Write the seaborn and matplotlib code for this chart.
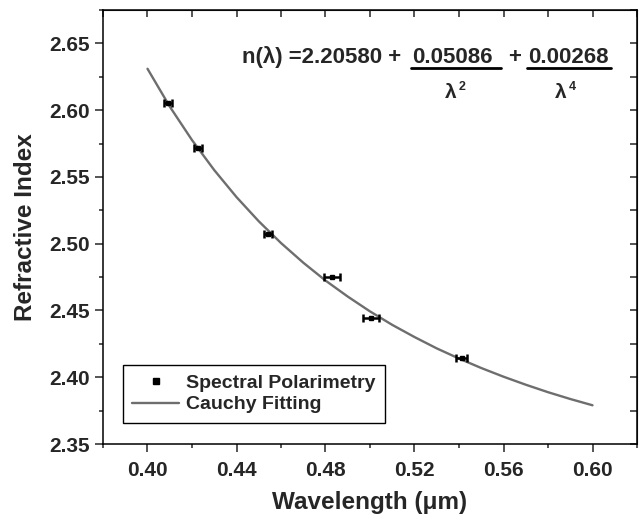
import matplotlib
matplotlib.use("Agg")
import matplotlib.pyplot as plt
import seaborn as sns
import pandas as pd
from matplotlib.ticker import MultipleLocator, FormatStrFormatter
from matplotlib.lines import Line2D

# measured points (spectral polarimetry)
wl = [0.4094, 0.4229, 0.4543, 0.4828, 0.5004, 0.5413]
n_meas = [2.605, 2.5716, 2.507, 2.4747, 2.444, 2.4142]
wl_err = [0.0018, 0.0018, 0.0018, 0.0036, 0.0036, 0.0025]

# Cauchy fit curve
wl_fit = [0.40, 0.41, 0.42, 0.43, 0.44, 0.45, 0.46, 0.47, 0.48, 0.49, 0.50,
          0.51, 0.52, 0.53, 0.54, 0.55, 0.56, 0.57, 0.58, 0.59, 0.60]
n_fit = [2.631, 2.6027, 2.5776, 2.5551, 2.5349, 2.5168, 2.5005, 2.4858, 2.4724,
         2.4604, 2.4493, 2.4392, 2.4301, 2.4216, 2.414, 2.4069, 2.4004, 2.3944,
         2.3888, 2.3837, 2.379]

sns.set_style("ticks")
plt.rcParams['font.family'] = ['Liberation Sans', 'DejaVu Sans']
plt.rcParams['font.weight'] = 'bold'

fig = plt.figure(figsize=(6.42, 5.19), dpi=100)
ax = fig.add_axes([103 / 642, 1 - 444 / 519, 534 / 642, 434 / 519])

fit_df = pd.DataFrame({'wl': wl_fit, 'n': n_fit})
sns.lineplot(data=fit_df, x='wl', y='n', ax=ax, color='#6e6e6e', lw=1.7)
ax.errorbar(wl, n_meas, xerr=wl_err, fmt='s', color='black', ms=3.4,
            elinewidth=1.8, capsize=2.6, capthick=1.8)

ax.set_xlim(0.38, 0.62)
ax.set_ylim(2.35, 2.675)
ax.xaxis.set_major_locator(MultipleLocator(0.04))
ax.xaxis.set_minor_locator(MultipleLocator(0.02))
ax.yaxis.set_major_locator(MultipleLocator(0.05))
ax.yaxis.set_minor_locator(MultipleLocator(0.025))
ax.xaxis.set_major_formatter(FormatStrFormatter('%.2f'))
ax.yaxis.set_major_formatter(FormatStrFormatter('%.2f'))
ax.tick_params(which='major', direction='out', length=6, width=1.1, labelsize=15)
ax.tick_params(axis='x', which='major', pad=6)
ax.tick_params(which='minor', direction='out', length=3, width=1.1)
for s in ax.spines.values():
    s.set_linewidth(1.1)
    s.set_color('black')

# mirrored inward ticks on top and right
top = ax.secondary_xaxis('top')
top.xaxis.set_major_locator(MultipleLocator(0.04))
top.xaxis.set_minor_locator(MultipleLocator(0.02))
top.tick_params(which='both', direction='in', length=5, width=1.1, labeltop=False)
right = ax.secondary_yaxis('right')
right.yaxis.set_major_locator(MultipleLocator(0.05))
right.yaxis.set_minor_locator(MultipleLocator(0.025))
right.tick_params(which='both', direction='in', length=5, width=1.1, labelright=False)

ax.set_xlabel('Wavelength (\u03bcm)', fontsize=17.5, fontweight='bold', labelpad=8)
ax.set_ylabel('Refractive Index', fontsize=17.5, fontweight='bold', labelpad=9)

handles = [Line2D([], [], marker='s', color='black', ls='none', ms=3.8),
           Line2D([], [], color='#6e6e6e', lw=1.7)]
leg = ax.legend(handles, ['Spectral Polarimetry', 'Cauchy Fitting'],
                loc='lower left', bbox_to_anchor=(0.037, 0.048), borderaxespad=0,
                fancybox=False, framealpha=1, edgecolor='black',
                handlelength=2.4, handletextpad=0.35, borderpad=0.5,
                labelspacing=0.2, prop={'weight': 'bold', 'size': 14})
leg.get_frame().set_linewidth(1.0)


def fx(px):
    return px / 642


def fy(py):
    return 1 - py / 519


eq = dict(fontsize=16, fontweight='bold', va='baseline')
fig.text(fx(242), fy(63), 'n(\u03bb) =2.20580 +', ha='left', **eq)
fig.text(fx(412), fy(63), '0.05086', ha='left', **eq)
fig.text(fx(508), fy(63), '+', ha='left', **eq)
fig.text(fx(528), fy(63), '0.00268', ha='left', **eq)
for x0, x1 in [(411, 501), (527, 611)]:
    fig.add_artist(Line2D([fx(x0), fx(x1)], [fy(68), fy(68)], color='black',
                          lw=2, transform=fig.transFigure))
fig.text(fx(451), fy(98), '\u03bb', ha='center', fontsize=15, va='baseline')
fig.text(fx(462), fy(90), '2', ha='center', fontsize=9, fontweight='bold', va='baseline')
fig.text(fx(561), fy(98), '\u03bb', ha='center', fontsize=15, va='baseline')
fig.text(fx(572), fy(90), '4', ha='center', fontsize=9, fontweight='bold', va='baseline')

fig.savefig('out.png', dpi=100)
